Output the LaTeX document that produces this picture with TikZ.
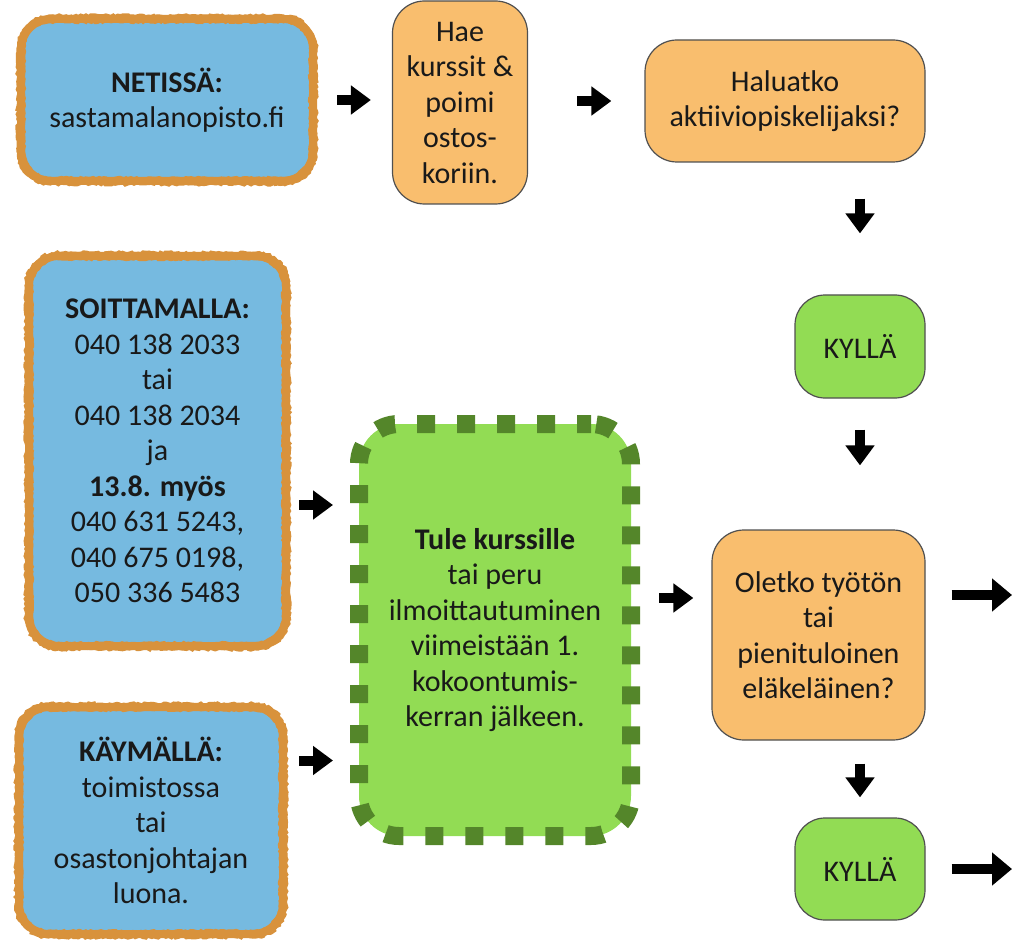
\documentclass[tikz,border=0pt]{standalone}
\usepackage{fontspec}
\setmainfont{Carlito}
\usetikzlibrary{arrows.meta,calc,decorations.pathmorphing}
\definecolor{boxblue}{RGB}{118,186,224}
\definecolor{rimorange}{RGB}{216,146,60}
\definecolor{qorange}{RGB}{249,190,110}
\definecolor{kgreen}{RGB}{146,220,84}
\definecolor{dgreen}{RGB}{84,134,42}
\definecolor{edgegray}{RGB}{80,80,80}
\definecolor{ink}{RGB}{25,25,25}
% rough outline around a node: #1 node, #2 inset, #3 radius, #4 style
\newcommand\myroughline[4]{%
  \draw[#4] let \p1=(#1.north west), \p2=(#1.south east) in
    (\x1+#2+#3,\y1-#2) -- (\x2-#2-#3,\y1-#2)
    arc[start angle=90,end angle=0,radius=#3] -- (\x2-#2,\y2+#2+#3)
    arc[start angle=0,end angle=-90,radius=#3] -- (\x1+#2+#3,\y2+#2)
    arc[start angle=270,end angle=180,radius=#3] -- (\x1+#2,\y1-#2-#3)
    arc[start angle=180,end angle=90,radius=#3] -- cycle;}
\begin{document}
\begin{tikzpicture}[x=1pt,y=-1pt,
  txt/.style={font=\fontsize{30}{35.5}\selectfont, align=center, text=ink, inner sep=0pt},
  rim/.style={txt, fill=boxblue, draw=rimorange, line width=8pt, rounded corners=30pt},
  roughrim/.style={draw=rimorange, line width=2.2pt,
    decorate, decoration={random steps, segment length=2.5pt, amplitude=1.1pt}},
  roughin/.style={draw=rimorange, line width=1.6pt,
    decorate, decoration={random steps, segment length=2.5pt, amplitude=0.9pt}},
  qbox/.style={txt, fill=qorange, draw=edgegray, line width=1.2pt, rounded corners=32pt},
  kbox/.style={txt, fill=kgreen, draw=edgegray, line width=1.2pt, rounded corners=30pt},
  dotbox/.style={txt, fill=kgreen, draw=dgreen, line width=18pt, dash pattern=on 18pt off 22pt, dash phase=4pt, rounded corners=40pt},
  arr/.style={draw=black, line width=10pt, -{Triangle[width=28pt,length=20pt]}},
  longarr/.style={draw=black, line width=10pt, -{Triangle[width=32pt,length=20pt]}}
]
\useasboundingbox (0,0) rectangle (1012,941);

\node[rim, minimum width=292pt, minimum height=162pt] (net) at (167,100)
  {\textbf{NETISSÄ:}\\sastamalanopisto.fi};
\node[qbox, minimum width=135pt, minimum height=203pt] (hae) at (460,102.5)
  {Hae\\kurssit \&\\poimi\\ostos-\\koriin.};
\node[qbox, minimum width=280pt, minimum height=122pt] (hal) at (785,101)
  {Haluatko\\aktiiviopiskelijaksi?};
\node[kbox, minimum width=130pt, minimum height=103pt] (kyl1) at (860,346.5) {KYLLÄ};
\node[rim, minimum width=257pt, minimum height=390pt] (soitt) at (157.5,451)
  {\textbf{SOITTAMALLA:}\\040 138 2033\\tai\\040 138 2034\\ja\\\textbf{13.8. myös}\\040 631 5243,\\040 675 0198,\\050 336 5483};
\node[dotbox, minimum width=272pt, minimum height=412pt] (green) at (495,630)
  {\textbf{Tule kurssille}\\tai peru\\ilmoittautuminen\\viimeistään 1.\\kokoontumis-\\kerran jälkeen.};
\node[qbox, minimum width=213pt, minimum height=210pt] (olet) at (818.5,635)
  {Oletko työtön\\tai\\pienituloinen\\eläkeläinen?};
\node[kbox, minimum width=130pt, minimum height=102pt] (kyl2) at (860,869) {KYLLÄ};
\node[rim, minimum width=264pt, minimum height=227pt] (kay) at (151,820.5)
  {\textbf{KÄYMÄLLÄ:}\\toimistossa\\tai\\osastonjohtajan\\luona.};

% rough edges of the orange rims
\begin{scope}[x=1pt,y=1pt]
\foreach \nd in {net,soitt,kay}{
  \myroughline{\nd}{0.5pt}{33pt}{roughrim}
  \myroughline{\nd}{7.5pt}{26pt}{roughin}
}
\end{scope}

\coordinate (out1) at (1012,595);
\coordinate (out2) at (1012,869);

\draw[arr, shorten <=20pt, shorten >=21pt] (net.east) -- (net.east -| hae.west);
\draw[arr, shorten <=49pt, shorten >=33pt] (hal.west -| hae.east) -- (hal.west);
\draw[arr, shorten <=36pt, shorten >=61pt] (kyl1.north |- hal.south) -- (kyl1.north);
\draw[arr, shorten <=31pt, shorten >=64pt] (kyl1.south) -- (kyl1.south |- olet.north);
\draw[arr, shorten <=9pt, shorten >=17pt] ([yshift=-54pt]soitt.east) -- ([yshift=-54pt]soitt.east -| green.west);
\draw[arr, shorten <=12pt, shorten >=17pt] ([yshift=60pt]kay.east) -- ([yshift=60pt]kay.east -| green.west);
\draw[arr, shorten <=19pt, shorten >=18pt] ([yshift=32pt]green.east) -- ([yshift=32pt]green.east -| olet.west);
\draw[arr, shorten <=23pt, shorten >=20pt] (kyl2.north |- olet.south) -- (kyl2.north);
\draw[longarr, shorten <=26pt] (out1 -| olet.east) -- (out1);
\draw[longarr, shorten <=26pt] (kyl2.east) -- (out2);
\end{tikzpicture}
\end{document}
